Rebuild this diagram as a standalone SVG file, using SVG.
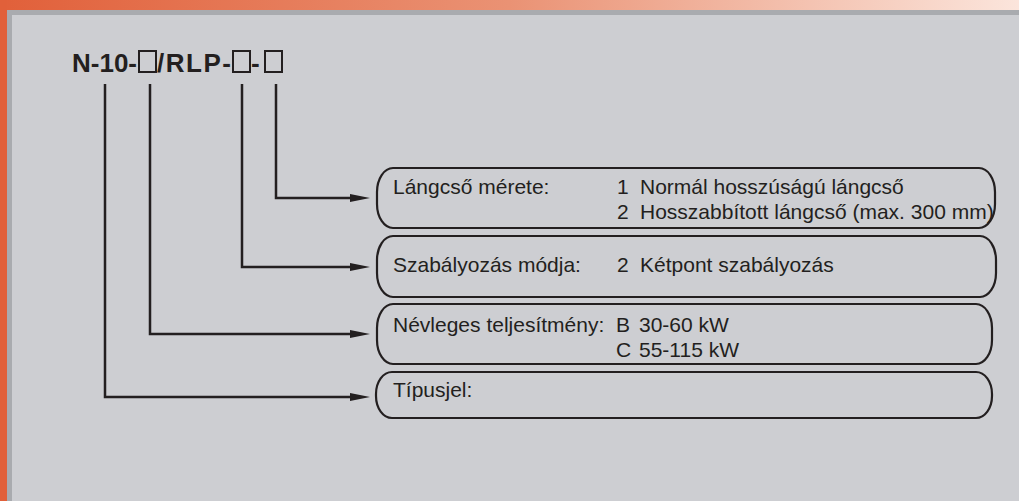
<svg xmlns="http://www.w3.org/2000/svg" width="1019" height="501" viewBox="0 0 1019 501">
<defs>
<linearGradient id="topband" x1="0" y1="0" x2="1" y2="0">
<stop offset="0" stop-color="#e1603a"/>
<stop offset="0.5" stop-color="#ea9274"/>
<stop offset="1" stop-color="#fbe5dc"/>
</linearGradient>
<marker id="arr" viewBox="0 0 20 8" refX="10" refY="4" markerWidth="20" markerHeight="8" markerUnits="userSpaceOnUse" orient="auto">
<path d="M0,0 L20,4 L0,8 z" fill="#231f20"/>
</marker>
<style>
.box{fill:none;stroke:#231f20;stroke-width:2.2}
.t{font-family:"Liberation Sans",Arial,sans-serif;font-size:21px;fill:#231f20}
.title{font-family:"Liberation Sans",Arial,sans-serif;font-size:26px;font-weight:bold;fill:#231f20}
.sq{fill:none;stroke:#231f20;stroke-width:2}
.conn{fill:none;stroke:#231f20;stroke-width:2.5}
</style>
</defs>
<rect x="0" y="0" width="1019" height="501" fill="#cdced2"/>
<rect x="0" y="0" width="1019" height="10" fill="url(#topband)"/>
<rect x="0" y="0" width="7" height="501" fill="#e1603a"/>
<rect x="7" y="10" width="1012" height="5" fill="#a9abaf"/>
<rect x="7" y="10" width="5" height="491" fill="#a9abaf"/>

<g id="title">
<text class="title" x="72" y="72">N-10-</text>
<rect class="sq" x="139" y="51" width="17" height="21"/>
<text class="title" x="157" y="72" textLength="74">/RLP-</text>
<rect class="sq" x="233" y="51" width="17" height="21"/>
<text class="title" x="251" y="72">-</text>
<rect class="sq" x="265" y="51" width="17" height="21"/>
</g>

<g id="connectors">
<path class="conn" d="M276,84 V198 H360" marker-end="url(#arr)"/>
<path class="conn" d="M242,84 V267 H360" marker-end="url(#arr)"/>
<path class="conn" d="M150,84 V334 H360" marker-end="url(#arr)"/>
<path class="conn" d="M105,84 V397 H360" marker-end="url(#arr)"/>
</g>

<g id="box-langcso">
<rect class="box" x="377" y="168" width="618" height="60" rx="16" ry="24"/>
<text class="t" x="393" y="194">Lángcső mérete:</text>
<text class="t" x="617" y="194">1</text>
<text class="t" x="640" y="194">Normál hosszúságú lángcső</text>
<text class="t" x="617" y="219">2</text>
<text class="t" x="640" y="219">Hosszabbított lángcső (max. 300 mm)</text>
</g>

<g id="box-szabalyozas">
<rect class="box" x="377" y="236" width="619" height="61" rx="16" ry="24"/>
<text class="t" x="393" y="272">Szabályozás módja:</text>
<text class="t" x="617" y="272">2</text>
<text class="t" x="640" y="272">Kétpont szabályozás</text>
</g>

<g id="box-teljesitmeny">
<rect class="box" x="377" y="304" width="615" height="60" rx="16" ry="24"/>
<text class="t" x="393" y="332">Névleges teljesítmény:</text>
<text class="t" x="616" y="332">B</text>
<text class="t" x="639" y="332">30-60 kW</text>
<text class="t" x="616" y="357">C</text>
<text class="t" x="639" y="357">55-115 kW</text>
</g>

<g id="box-tipusjel">
<rect class="box" x="376" y="372" width="616" height="46" rx="16" ry="22"/>
<text class="t" x="393" y="397">Típusjel:</text>
</g>
</svg>
